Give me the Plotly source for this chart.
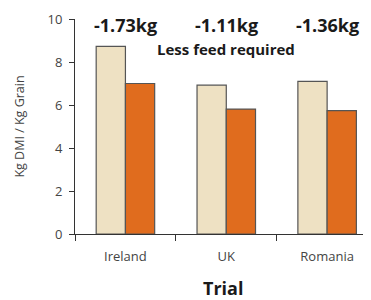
import plotly.graph_objects as go

trials = ["Ireland", "UK", "Romania"]
control = [8.73, 6.92, 7.10]
treated = [7.00, 5.81, 5.74]
diff_labels = ["-1.73kg", "-1.11kg", "-1.36kg"]
y_ticks = [0, 2, 4, 6, 8, 10]

FONT = "Open Sans"
fig = go.Figure()
fig.add_trace(go.Bar(x=trials, y=control, marker=dict(color="#EEE1C3", line=dict(color="#555555", width=1.2)), showlegend=False))
fig.add_trace(go.Bar(x=trials, y=treated, marker=dict(color="#E06C1E", line=dict(color="#555555", width=1.2)), showlegend=False))

for t, lab in zip(trials, diff_labels):
    fig.add_annotation(x=t, y=9.72, xref="x", yref="y", text="<b>%s</b>" % lab, showarrow=False,
                       font=dict(family=FONT, size=18, color="#1a1a1a"))
fig.add_annotation(x="UK", y=8.62, xref="x", yref="y", text="<b>Less feed required</b>", showarrow=False,
                   font=dict(family=FONT, size=15, color="#1a1a1a"))
fig.add_annotation(x=0.5, y=-0.25, xref="paper", yref="paper", xanchor="center", yanchor="middle",
                   text="<b>Trial</b>", showarrow=False, font=dict(family=FONT, size=18, color="#1a1a1a"))

fig.update_layout(
    width=363, height=292,
    margin=dict(l=67, r=0, t=11, b=66),
    plot_bgcolor="white", paper_bgcolor="white",
    barmode="group", bargap=0.42, bargroupgap=0,
    font=dict(family=FONT, color="#333333", size=13),
)
fig.update_xaxes(type="category", range=[-0.5, 2.435], showline=True, linecolor="#333333", linewidth=1,
                 ticks="outside", tickson="boundaries", ticklen=6, tickcolor="#333333",
                 ticklabelstandoff=10,
                 showgrid=False, tickfont=dict(family=FONT, size=13, color="#444444"))
fig.update_yaxes(range=[0, 10], tickvals=y_ticks, showline=True, linecolor="#333333", linewidth=1,
                 ticks="outside", ticklen=5, tickcolor="#333333", showgrid=False, zeroline=False,
                 ticklabelstandoff=4,
                 tickfont=dict(family=FONT, size=13, color="#444444"),
                 title=dict(text="Kg DMI / Kg Grain", font=dict(family=FONT, size=12.5, color="#444444"), standoff=20))

fig.write_html("out.html")
